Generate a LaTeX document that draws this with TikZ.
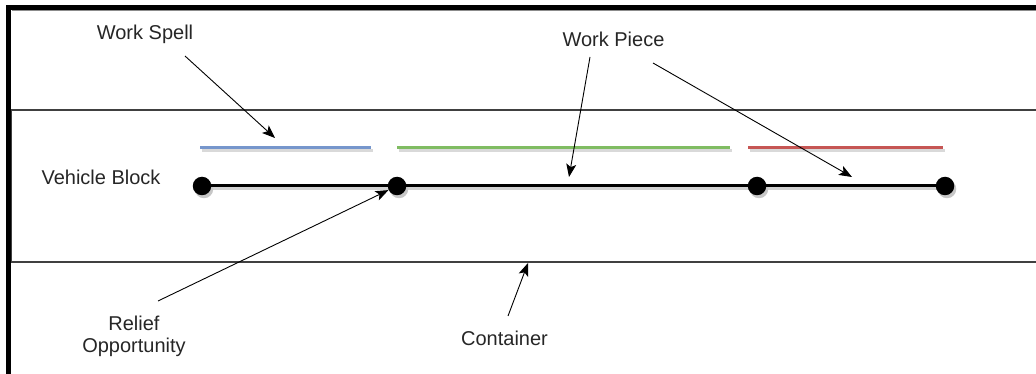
\documentclass[tikz,border=0pt]{standalone}
\usepackage{fontspec}
\setmainfont{Liberation Sans}
\usetikzlibrary{arrows.meta}
\definecolor{spanblue}{RGB}{118,150,204}
\definecolor{spangreen}{RGB}{128,188,98}
\definecolor{spanred}{RGB}{198,86,84}
\begin{document}
\begin{tikzpicture}[x=1pt,y=-1pt,
  lbl/.style={font=\fontsize{20}{22}\selectfont, text=black!85, inner sep=0pt},
  dot/.style={circle, fill=black, minimum size=18.5pt, inner sep=0pt},
  dotshadow/.style={circle, fill=black!22, minimum size=18.5pt, inner sep=0pt},
  seg/.style={line width=3pt, black},
  segshadow/.style={line width=3pt, black!18},
  spanline/.style={line width=3pt},
  ptr/.style={line width=0.9pt, black, -{Stealth[length=13pt,width=10pt,inset=3pt]}}]
\useasboundingbox (0,0) rectangle (1036,374);
% outer frame (cropped)
\draw[black!45, line width=1pt] (12,11) -- (1040,11);
\draw[line width=5pt, line join=miter] (8.5,380) -- (8.5,8) -- (1040,8);
% container band
\draw[black!75, line width=1.5pt] (1040,110) -- (11.5,110) -- (11.5,262) -- (1040,262);
% coloured spans with shadows
\draw[spanline, black!15] (201.5,151) -- (372.5,151);
\draw[spanline, black!15] (398.5,151) -- (731.5,151);
\draw[spanline, black!15] (749.5,151) -- (944.5,151);
\draw[spanline, spanblue] (200,148) -- (371,148);
\draw[spanline, spangreen] (397,148) -- (730,148);
\draw[spanline, spanred] (748,148) -- (943,148);
% vehicle block line
\coordinate (p1) at (202,186);
\coordinate (p2) at (397,186);
\coordinate (p3) at (757,186);
\coordinate (p4) at (945,186);
\draw[segshadow] ([shift={(1.5,3)}]p1) -- ([shift={(1.5,3)}]p4);
\node[dotshadow] at ([shift={(2,3)}]p1) {};
\node[dotshadow] at ([shift={(2,3)}]p2) {};
\node[dotshadow] at ([shift={(2,3)}]p3) {};
\node[dotshadow] at ([shift={(2,3)}]p4) {};
\draw[seg] (p1) -- (p2) -- (p3) -- (p4);
\node[dot] (d1) at (p1) {};
\node[dot] (d2) at (p2) {};
\node[dot] (d3) at (p3) {};
\node[dot] (d4) at (p4) {};
% labels
\node[lbl, anchor=base] (ws) at (145,40) {Work Spell};
\node[lbl, anchor=base] (wp) at (613.5,47) {Work Piece};
\node[lbl, anchor=base] (vb) at (101,185) {Vehicle Block};
\node[lbl, anchor=north, align=center] (ro) at (134,315.5) {Relief\\Opportunity};
\node[lbl, anchor=base] (ct) at (504.5,345) {Container};
% pointers
\coordinate (wsA) at (185,56);
\coordinate (wsB) at (275,138);
\coordinate (wpA) at (590,57);
\coordinate (wpB) at (569,177);
\coordinate (wpC) at (653,63);
\coordinate (wpD) at (852,177);
\coordinate (roA) at (158,301);
\coordinate (ctA) at (508,316);
\coordinate (ctB) at (528,263);
\draw[ptr] (wsA) -- (wsB);
\draw[ptr] (wpA) -- (wpB);
\draw[ptr] (wpC) -- (wpD);
\draw[ptr] (roA) -- (d2);
\draw[ptr] (ctA) -- (ctB);
\end{tikzpicture}
\end{document}
